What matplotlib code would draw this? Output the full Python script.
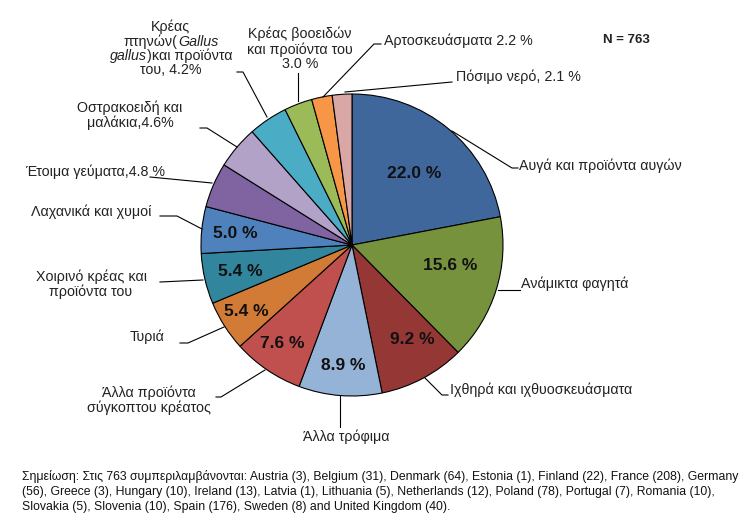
import matplotlib.pyplot as plt

plt.rcParams['font.family'] = ['Liberation Sans', 'DejaVu Sans']

# shares of outbreaks by food vehicle (%)
categories = ['Αυγά και προϊόντα αυγών', 'Ανάμικτα φαγητά', 'Ιχθηρά και ιχθυοσκευάσματα',
              'Άλλα τρόφιμα', 'Άλλα προϊόντα σύγκοπτου κρέατος', 'Τυριά',
              'Χοιρινό κρέας και προϊόντα του', 'Λαχανικά και χυμοί', 'Έτοιμα γεύματα',
              'Οστρακοειδή και μαλάκια', 'Κρέας πτηνών', 'Κρέας βοοειδών',
              'Αρτοσκευάσματα', 'Πόσιμο νερό']
values = [22.0, 15.6, 9.2, 8.9, 7.6, 5.4, 5.4, 5.0, 4.8, 4.6, 4.2, 3.0, 2.2, 2.1]
colors = ['#40679B', '#76923C', '#953735', '#95B3D7', '#C0504D', '#D17B36', '#31859C',
          '#4F81BD', '#8064A2', '#B3A2C7', '#4BACC6', '#9BBB59', '#F79646', '#D9A8A6']

W, H = 750, 521


def Y(y):
    # picture rows -> axis units (y up)
    return H - y


fig = plt.figure(figsize=(7.5, 5.21), dpi=100)
ax = fig.add_axes([0, 0, 1, 1])

ax.pie(values, center=(352, Y(245)), radius=151, startangle=90, counterclock=False,
       colors=colors, wedgeprops=dict(edgecolor='black', linewidth=0.8))
ax.set_xlim(0, W)
ax.set_ylim(0, H)
ax.set_aspect('equal')
ax.axis('off')

# percentages inside the big slices
inside = [(414, 174), (450, 266), (412, 339), (343, 365), (282, 344),
          (246, 311), (240, 271), (235, 233)]
for (x, y), v in zip(inside, values):
    ax.text(x, Y(y), f'{v:.1f} %', ha='center', va='center', fontsize=12.5,
            fontweight='bold', color='#111111')

# outside labels: text, position, alignment, leader line
outside = [
    ('Αυγά και προϊόντα αυγών', (519, 166), 'left', [(452, 131), (512, 168), (518, 168)]),
    ('Ανάμικτα φαγητά', (521, 284), 'left', [(498, 290), (520, 290)]),
    ('Ιχθηρά και ιχθυοσκευάσματα', (450, 390), 'left', [(425, 378), (442, 395), (448, 395)]),
    ('Άλλα τρόφιμα', (346, 437), 'center', [(340, 396), (340, 427)]),
    ('Άλλα προϊόντα\nσύγκοπτου κρέατος', (149, 400), 'center', [(265, 370), (221, 397), (216, 397)]),
    ('Τυριά', (164, 337), 'right', [(224, 327), (188, 343), (180, 343)]),
    ('Χοιρινό κρέας και\nπροϊόντα του', (91, 284), 'center', [(203, 280), (160, 282)]),
    ('Λαχανικά και χυμοί', (151, 212), 'right', [(202, 229), (177, 216), (160, 216)]),
    ('Έτοιμα γεύματα,4.8 %', (165, 172), 'right', [(212, 183), (150, 177)]),
    ('Οστρακοειδή και\nμαλάκια,4.6%', (130, 115), 'center', [(237, 147), (207, 128), (200, 128)]),
    ('Κρέας βοοειδών\nκαι προϊόντα του\n3.0 %', (300, 49), 'center', [(298, 101), (298, 73)]),
    ('Αρτοσκευάσματα 2.2 %', (384, 41), 'left', [(323, 97), (374, 44), (381, 44)]),
    ('Πόσιμο νερό, 2.1 %', (456, 77), 'left', [(345, 92), (452, 82)]),
]
for text, (x, y), ha, pts in outside:
    ax.plot([p[0] for p in pts], [Y(p[1]) for p in pts], color='black', lw=0.8)
    ax.text(x, Y(y), text, ha=ha, va='center', fontsize=10.3, color='#222222',
            linespacing=1.05, multialignment='center')

# poultry label has italic parts: build each line from pieces, centred at x=171
poultry = [
    [('Κρέας', 'normal')],
    [('πτηνών(', 'normal'), ('Gallus', 'italic')],
    [('gallus', 'italic'), (')και προϊόντα', 'normal')],
    [('του, 4.2%', 'normal')],
]
renderer = fig.canvas.get_renderer()
for pieces, y in zip(poultry, [27, 42, 56, 70]):
    parts = [ax.text(0, Y(y), s, ha='left', va='baseline', fontsize=10.3, color='#222222',
                     fontstyle=st) for s, st in pieces]
    widths = [p.get_window_extent(renderer).width for p in parts]
    x = 171 - sum(widths) / 2
    for p, w in zip(parts, widths):
        p.set_position((x, Y(y + 4)))
        x += w
ax.plot([267, 243, 237], [Y(117), Y(72), Y(72)], color='black', lw=0.8)

ax.text(603, Y(40), 'N = 763', ha='left', va='center', fontsize=9.5, fontweight='bold',
        color='#222222')

note = ('Σημείωση: Στις 763 συμπεριλαμβάνονται: Austria (3), Belgium (31), Denmark (64), Estonia (1), '
        'Finland (22), France (208), Germany\n(56), Greece (3), Hungary (10), Ireland (13), Latvia (1), '
        'Lithuania (5), Netherlands (12), Poland (78), Portugal (7), Romania (10),\nSlovakia (5), '
        'Slovenia (10), Spain (176), Sweden (8) and United Kingdom (40).')
ax.text(22, Y(470), note, ha='left', va='top', fontsize=8.8, color='#111111', linespacing=1.32)

fig.savefig('out.png', dpi=100)
